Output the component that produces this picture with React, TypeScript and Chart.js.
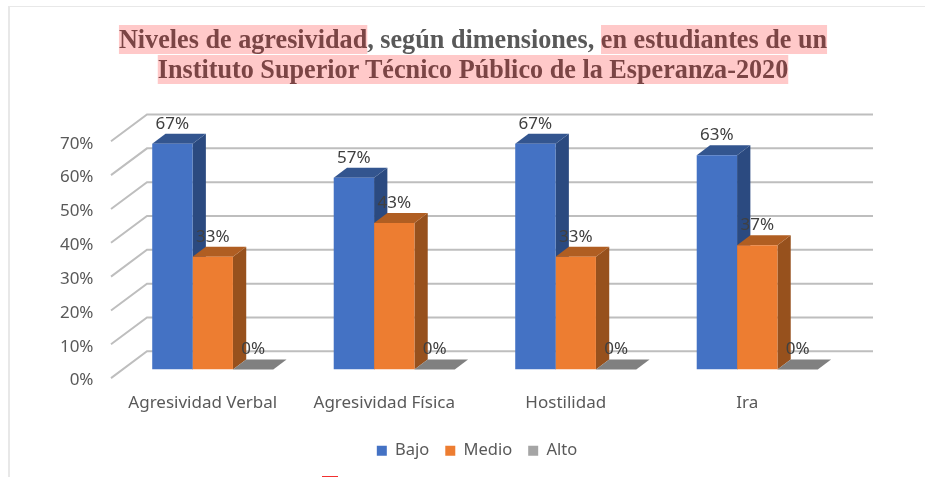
import React, { useEffect, useRef } from "react";
import { Chart, registerables } from "chart.js";

Chart.register(...registerables);

const categories = ["Agresividad Verbal", "Agresividad Física", "Hostilidad", "Ira"];
const bajo = [66.7, 56.7, 66.7, 63.3];
const medio = [33.3, 43.3, 33.3, 36.7];
const alto = [0, 0, 0, 0];
const seriesNames = ["Bajo", "Medio", "Alto"];
const frontColors = ["#4472C4", "#ED7D31", "#A5A5A5"];
const sideColors = ["#2B4A80", "#97511D", "#6B6B6B"];
const topColors = ["#33558F", "#B05E22", "#808080"];

const DX = 13.3;
const DY = -10;
const FONT = "Noto Sans";

function poly(ctx: CanvasRenderingContext2D, pts: number[][], color: string) {
  ctx.fillStyle = color;
  ctx.beginPath();
  pts.forEach((p, i) => (i ? ctx.lineTo(p[0], p[1]) : ctx.moveTo(p[0], p[1])));
  ctx.closePath();
  ctx.fill();
}

const threeD = {
  id: "threeD",
  beforeDraw(chart: any) {
    // The legend is centred under the plot, not under the whole canvas.
    chart.legend.left = 105;
    chart.legend.right = 849;
  },
  beforeDatasetsDraw(chart: any) {
    const { ctx, chartArea, scales } = chart;
    ctx.save();
    ctx.strokeStyle = "#BEBEBE";
    ctx.lineWidth = 2;
    scales.y.ticks.forEach((t: any) => {
      const y = scales.y.getPixelForValue(t.value);
      ctx.beginPath();
      ctx.moveTo(chartArea.left - 11, y + 8.6);
      ctx.lineTo(chartArea.left + 25, y - 18.2);
      ctx.lineTo(chartArea.right + 25, y - 18.2);
      ctx.stroke();
    });
    chart.data.datasets.forEach((_: any, di: number) => {
      chart.getDatasetMeta(di).data.forEach((bar: any) => {
        const p = bar.getProps(["x", "y", "base", "width"], true);
        const l = p.x - p.width / 2;
        const r = p.x + p.width / 2;
        poly(ctx, [[r, p.y], [r + DX, p.y + DY], [r + DX, p.base + DY], [r, p.base]], sideColors[di]);
        poly(ctx, [[l, p.y], [l + DX, p.y + DY], [r + DX, p.y + DY], [r, p.y]], topColors[di]);
      });
    });
    ctx.restore();
  },
  afterDatasetsDraw(chart: any) {
    const { ctx } = chart;
    ctx.save();
    ctx.font = `17px "${FONT}"`;
    ctx.fillStyle = "#404040";
    ctx.textAlign = "center";
    ctx.textBaseline = "middle";
    chart.data.datasets.forEach((ds: any, di: number) => {
      chart.getDatasetMeta(di).data.forEach((bar: any, i: number) => {
        const p = bar.getProps(["x", "y"], true);
        ctx.fillText(Math.round(ds.data[i]) + "%", p.x, p.y - 20);
      });
    });
    ctx.restore();
  },
};

export default function App() {
  const ref = useRef<HTMLCanvasElement>(null);
  useEffect(() => {
    const chart = new Chart(ref.current!, {
      type: "bar",
      data: {
        labels: categories,
        datasets: [bajo, medio, alto].map((d, i) => ({
          label: seriesNames[i],
          data: d,
          backgroundColor: frontColors[i],
          borderWidth: 0,
          categoryPercentage: 0.667,
          barPercentage: 1,
        })),
      },
      options: {
        animation: false,
        responsive: false,
        layout: { padding: { left: 0, right: 77, top: 132.7, bottom: 8 } },
        plugins: {
          title: { display: false },
          tooltip: { enabled: false },
          legend: {
            position: "bottom",
            labels: {
              boxWidth: 10,
              boxHeight: 10,
              padding: 16,
              color: "#595959",
              font: { family: FONT, size: 16.5 },
            },
          },
        },
        scales: {
          x: {
            grid: { display: false, drawTicks: false },
            border: { display: false },
            afterFit: (s: any) => { s.height = 57; },
            ticks: {
              color: "#595959",
              padding: 23.5,
              labelOffset: -10,
              maxRotation: 0,
              font: { family: FONT, size: 17 },
            },
          },
          y: {
            min: 0,
            max: 70,
            grid: { display: false, drawTicks: false },
            border: { display: false },
            afterFit: (s: any) => { s.width = 122; },
            ticks: {
              stepSize: 10,
              color: "#595959",
              padding: 28.5,
              labelOffset: 11,
              callback: (v: any) => v + "%",
              font: { family: FONT, size: 17 },
            },
          },
        },
      },
      plugins: [threeD],
    } as any);
    return () => chart.destroy();
  }, []);

  const hl: React.CSSProperties = { background: "#FFC9C9", color: "#7B4545", display: "inline-block", lineHeight: "29px" };
  const row: React.CSSProperties = { height: 30 };
  return (
    <div style={{ position: "fixed", left: 0, top: 0, width: 925, height: 477, background: "#fff", overflow: "hidden", filter: "blur(0.5px)" }}>
      <div style={{ position: "absolute", left: 8, top: 6, right: 0, bottom: 0, borderTop: "1.5px solid #E8E8E8", borderLeft: "2px solid #E8E8E8" }} />
      <canvas ref={ref} width={925} height={477} style={{ position: "absolute", left: 0, top: 0, display: "block" }} />
      <div style={{ position: "absolute", left: 0, top: 25, width: 946, textAlign: "center", whiteSpace: "nowrap", fontFamily: '"Liberation Serif"', fontWeight: 700, fontSize: 27, lineHeight: "29px", color: "#595959", transform: "scaleX(0.97)", transformOrigin: "473px 0" }}>
        <div style={row}>
          <span style={hl}>Niveles de agresividad</span>, según dimensiones, <span style={hl}>en estudiantes de un</span>
        </div>
        <div style={row}>
          <span style={hl}>Instituto Superior Técnico Público de la Esperanza-2020</span>
        </div>
      </div>
      <div style={{ position: "absolute", left: 322, top: 476, width: 16, height: 1, background: "#F23030" }} />
    </div>
  );
}
